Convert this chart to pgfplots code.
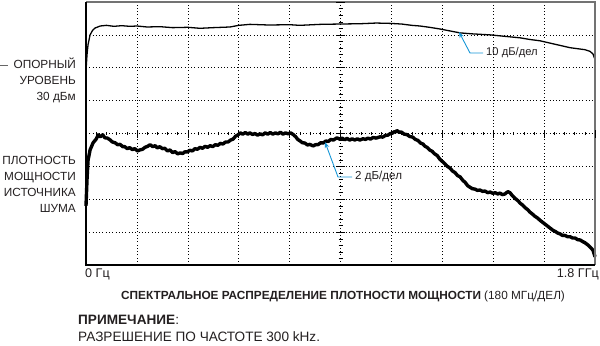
\documentclass[border=0pt]{standalone}
\usepackage{pgfplots}
\pgfplotsset{compat=1.18}
\usepackage{fontspec}
\setmainfont{Liberation Sans}
\usetikzlibrary{arrows.meta}
\definecolor{callout}{RGB}{22,150,214}
\definecolor{txt}{RGB}{35,31,32}
\begin{document}
\begin{tikzpicture}[x=1bp,y=1bp, font=\fontsize{11.8bp}{14bp}\selectfont, every node/.style={inner sep=0pt, text=txt}]
\useasboundingbox (0,0) rectangle (600,345);
\begin{axis}[at={(86bp,80bp)}, anchor=south west, scale only axis,
  width=509bp, height=263bp, xmin=0, xmax=10, ymin=0, ymax=8,
  xtick={1,...,9}, ytick={1,...,7}, xticklabels={}, yticklabels={},
  major tick length=0pt, grid=major,
  grid style={black, line width=0.6pt, dash pattern=on 0.7pt off 2.6pt},
  axis line style={draw=none}, clip=false]
% top trace (10 dB/div)
\addplot[black, line width=1.3pt, line join=round] coordinates {
(0.00,5.90) (0.02,6.40) (0.04,6.70) (0.08,7.00) (0.13,7.14) (0.18,7.21)
(0.28,7.27) (0.40,7.29) (0.55,7.26) (0.70,7.28) (0.86,7.26) (1.00,7.27)
(1.20,7.24) (1.45,7.25) (1.70,7.22) (2.00,7.23) (2.24,7.20) (2.50,7.22)
(2.83,7.24) (3.00,7.29) (3.22,7.32) (3.60,7.30) (4.00,7.31) (4.20,7.29)
(4.60,7.32) (4.99,7.33) (5.40,7.34) (5.70,7.36) (5.97,7.35) (6.20,7.33)
(6.40,7.29) (6.56,7.27) (6.75,7.23) (6.95,7.18) (7.15,7.12) (7.35,7.06)
(7.60,7.03) (7.94,7.00) (8.20,6.96) (8.53,6.91) (8.72,6.86) (8.92,6.82)
(9.20,6.72) (9.51,6.61) (9.80,6.55) (9.90,6.50) (9.96,6.42) (10.00,6.25)
};
% bottom trace (2 dB/div)
\addplot[black, line width=3.4pt, line join=round] coordinates {
(0.00,1.80) (0.02,2.60) (0.04,3.18) (0.08,3.50) (0.14,3.72) (0.20,3.83)
(0.24,3.96) (0.28,3.90) (0.33,3.96) (0.37,3.87) (0.42,3.86) (0.47,3.81)
(0.52,3.74) (0.57,3.72) (0.62,3.66) (0.67,3.67) (0.72,3.60) (0.76,3.60)
(0.81,3.54) (0.86,3.57) (0.91,3.51) (0.96,3.54) (1.01,3.47) (1.06,3.50)
(1.11,3.52) (1.16,3.58) (1.21,3.61) (1.26,3.66) (1.31,3.60) (1.36,3.63)
(1.40,3.56) (1.45,3.60) (1.50,3.54) (1.55,3.55) (1.60,3.47) (1.65,3.50)
(1.70,3.42) (1.75,3.45) (1.80,3.38) (1.85,3.41) (1.90,3.39) (1.94,3.44)
(1.99,3.44) (2.04,3.49) (2.09,3.47) (2.14,3.54) (2.19,3.52) (2.24,3.58)
(2.29,3.55) (2.34,3.61) (2.39,3.58) (2.44,3.63) (2.49,3.60) (2.54,3.66)
(2.59,3.64) (2.64,3.70) (2.69,3.68) (2.74,3.74) (2.79,3.74) (2.84,3.80)
(2.89,3.83) (2.94,3.92) (2.98,3.95) (3.03,4.02) (3.08,3.98) (3.13,4.03)
(3.18,3.98) (3.22,4.02) (3.27,3.97) (3.32,4.00) (3.37,3.95) (3.42,3.99)
(3.47,3.96) (3.52,4.02) (3.57,3.98) (3.62,4.03) (3.67,3.98) (3.72,4.02)
(3.77,3.99) (3.82,4.04) (3.87,3.98) (3.92,4.02) (3.97,3.99) (4.02,4.02)
(4.07,3.97) (4.12,3.90) (4.16,3.82) (4.20,3.78) (4.25,3.72) (4.30,3.71)
(4.35,3.65) (4.40,3.67) (4.46,3.62) (4.51,3.66) (4.56,3.66) (4.61,3.72)
(4.66,3.71) (4.71,3.77) (4.76,3.76) (4.81,3.82) (4.86,3.80) (4.93,3.87)
(4.98,3.83) (5.03,3.86) (5.08,3.81) (5.13,3.85) (5.18,3.80) (5.23,3.84)
(5.28,3.80) (5.33,3.84) (5.38,3.80) (5.44,3.84) (5.49,3.82) (5.54,3.86)
(5.59,3.83) (5.64,3.88) (5.70,3.86) (5.78,3.90) (5.83,3.89) (5.88,3.94)
(5.93,3.95) (5.98,4.00) (6.02,4.01) (6.05,4.05) (6.08,4.05) (6.11,4.09)
(6.15,4.04) (6.20,4.04) (6.25,3.98) (6.30,3.97) (6.36,3.91) (6.42,3.89)
(6.47,3.82) (6.52,3.79) (6.57,3.71) (6.62,3.68) (6.66,3.61) (6.70,3.58)
(6.75,3.50) (6.80,3.46) (6.85,3.38) (6.90,3.33) (6.95,3.22) (7.00,3.15)
(7.05,3.08) (7.10,3.00) (7.15,2.95) (7.20,2.86) (7.25,2.81) (7.30,2.72)
(7.35,2.68) (7.40,2.58) (7.45,2.51) (7.50,2.41) (7.54,2.37) (7.59,2.32)
(7.64,2.31) (7.69,2.27) (7.74,2.28) (7.79,2.24) (7.84,2.25) (7.89,2.20)
(7.94,2.22) (7.99,2.18) (8.04,2.20) (8.09,2.16) (8.13,2.19) (8.18,2.14)
(8.23,2.16) (8.26,2.20) (8.29,2.23) (8.33,2.20) (8.37,2.12) (8.41,2.06)
(8.45,2.00) (8.49,1.95) (8.53,1.88) (8.58,1.82) (8.63,1.74) (8.68,1.68)
(8.72,1.61) (8.77,1.55) (8.82,1.48) (8.87,1.43) (8.92,1.36) (8.97,1.30)
(9.02,1.24) (9.07,1.18) (9.12,1.12) (9.17,1.06) (9.22,1.02) (9.27,0.97)
(9.31,0.95) (9.36,0.90) (9.41,0.90) (9.46,0.86) (9.51,0.86) (9.56,0.82)
(9.61,0.82) (9.66,0.77) (9.71,0.76) (9.76,0.71) (9.80,0.68) (9.86,0.61)
(9.92,0.52) (9.96,0.45) (10.00,0.25)
};
% frame
\draw[black!55, line width=1.2pt] (rel axis cs:0,1) -- (rel axis cs:1,1) -- (rel axis cs:1,0);
\draw[black, line width=1.6pt] (rel axis cs:0,1) -- (rel axis cs:0,0) -- (rel axis cs:1,0);
\end{axis}
% center graticule ticks
\foreach \i in {0,...,40} {
  \pgfmathsetmacro{\yy}{80+\i*6.575}
  \pgfmathtruncatemacro{\m}{mod(\i,5)}
  \ifnum\m=0
    \draw[black, line width=0.6pt] (336,\yy) -- (345,\yy);
  \else
    \draw[black, line width=0.4pt] (338.5,\yy) -- (342.5,\yy);
  \fi
}
\foreach \i in {0,...,50} {
  \pgfmathsetmacro{\xx}{86+\i*10.18}
  \pgfmathtruncatemacro{\m}{mod(\i,5)}
  \ifnum\m=0
    \draw[black, line width=0.5pt] (\xx,207.5) -- (\xx,215.5);
  \else
    \draw[black, line width=0.4pt] (\xx,209.8) -- (\xx,213.2);
  \fi
}
% left labels
\draw[black!60, line width=0.6pt] (0,280) -- (8,280);
\node[anchor=mid east] at (76,279) {ОПОРНЫЙ};
\node[anchor=mid east] at (76,263) {УРОВЕНЬ};
\node[anchor=mid east] at (76,247) {30 дБм};
\node[anchor=mid east] at (76,183) {ПЛОТНОСТЬ};
\node[anchor=mid east] at (76,167) {МОЩНОСТИ};
\node[anchor=mid east] at (76,151) {ИСТОЧНИКА};
\node[anchor=mid east] at (76,135) {ШУМА};
% x end labels
\node[anchor=mid west, font=\fontsize{12.6bp}{15bp}\selectfont] at (85,70) {0 Гц};
\node[anchor=mid east, font=\fontsize{12.6bp}{15bp}\selectfont] at (599,70) {1.8 ГГц};
% callouts
\draw[callout, line width=0.9pt, -{Stealth[length=6pt,width=4.5pt]}] (483,292) -- (470,292) -- (459,313);
\node[anchor=mid west, font=\fontsize{11.2bp}{13bp}\selectfont] at (486,292) {10 дБ/дел};
\draw[callout, line width=0.9pt, -{Stealth[length=6pt,width=4.5pt]}] (352,168) -- (338,168) -- (325,203);
\node[anchor=mid west, font=\fontsize{11.6bp}{13bp}\selectfont] at (355,168) {2 дБ/дел};
% axis title and note
\node[anchor=mid west] at (121,48) {\textbf{СПЕКТРАЛЬНОЕ РАСПРЕДЕЛЕНИЕ ПЛОТНОСТИ МОЩНОСТИ} (180 МГц/ДЕЛ)};
\node[anchor=mid west, font=\fontsize{13.6bp}{16bp}\selectfont] at (78,23) {\textbf{ПРИМЕЧАНИЕ}:};
\node[anchor=mid west, font=\fontsize{13.6bp}{16bp}\selectfont] at (78,6) {РАЗРЕШЕНИЕ ПО ЧАСТОТЕ 300 kHz.};
\end{tikzpicture}
\end{document}
